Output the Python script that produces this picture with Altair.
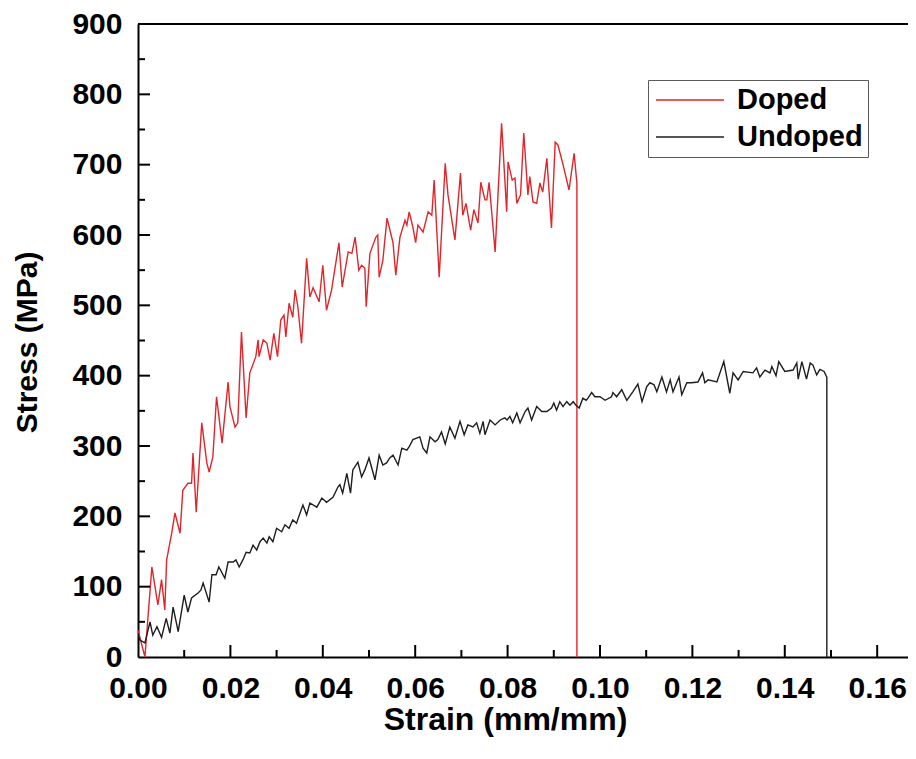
import altair as alt
import pandas as pd

# ---- data ----
doped_strain = [0.0000, 0.0015, 0.0030, 0.0043, 0.0051, 0.0058, 0.0062, 0.0073, 0.0080, 0.0091,
                0.0097, 0.0108, 0.0116, 0.0119, 0.0126, 0.0138, 0.0149, 0.0154, 0.0162, 0.0170,
                0.0182, 0.0195, 0.0199, 0.0210, 0.0216, 0.0224, 0.0234, 0.0242, 0.0255, 0.0260,
                0.0262, 0.0271, 0.0279, 0.0286, 0.0294, 0.0302, 0.0309, 0.0316, 0.0320, 0.0327,
                0.0335, 0.0340, 0.0346, 0.0354, 0.0365, 0.0372, 0.0379, 0.0392, 0.0400, 0.0408,
                0.0419, 0.0435, 0.0442, 0.0455, 0.0463, 0.0470, 0.0478, 0.0484, 0.0491, 0.0494,
                0.0502, 0.0515, 0.0519, 0.0522, 0.0530, 0.0539, 0.0552, 0.0558, 0.0567, 0.0578,
                0.0582, 0.0587, 0.0595, 0.0601, 0.0606, 0.0617, 0.0628, 0.0636, 0.0641, 0.0652,
                0.0665, 0.0671, 0.0686, 0.0698, 0.0703, 0.0710, 0.0720, 0.0727, 0.0736, 0.0742,
                0.0751, 0.0755, 0.0760, 0.0773, 0.0787, 0.0798, 0.0801, 0.0810, 0.0816, 0.0820,
                0.0828, 0.0835, 0.0844, 0.0848, 0.0855, 0.0863, 0.0870, 0.0876, 0.0885, 0.0895,
                0.0903, 0.0909, 0.0920, 0.0933, 0.0944, 0.0950, 0.0950]
doped_stress = [38, 0, 128, 74, 110, 67, 138, 176, 205, 176,
                237, 247, 247, 290, 206, 333, 276, 263, 284, 370,
                304, 391, 356, 327, 333, 462, 340, 404, 427, 451,
                427, 451, 446, 422, 460, 427, 479, 486, 455, 503,
                483, 522, 498, 446, 567, 512, 525, 505, 557, 493,
                522, 589, 526, 576, 574, 597, 550, 557, 553, 498,
                574, 597, 600, 540, 564, 624, 589, 543, 597, 621,
                614, 633, 611, 589, 614, 604, 633, 628, 678, 540,
                702, 657, 593, 688, 628, 645, 607, 636, 617, 675,
                650, 650, 675, 576, 759, 633, 704, 678, 681, 645,
                657, 745, 657, 683, 647, 645, 674, 661, 709, 610,
                732, 728, 700, 664, 716, 674, 0]

undoped_strain = [0.0000, 0.0004, 0.0015, 0.0026, 0.0032, 0.0041, 0.0051, 0.0061, 0.0069, 0.0076,
                  0.0087, 0.0100, 0.0108, 0.0116, 0.0130, 0.0136, 0.0141, 0.0154, 0.0160, 0.0169,
                  0.0175, 0.0188, 0.0195, 0.0206, 0.0212, 0.0219, 0.0227, 0.0234, 0.0242, 0.0249,
                  0.0257, 0.0264, 0.0271, 0.0279, 0.0284, 0.0292, 0.0300, 0.0311, 0.0318, 0.0327,
                  0.0335, 0.0343, 0.0351, 0.0357, 0.0365, 0.0372, 0.0387, 0.0398, 0.0408, 0.0422,
                  0.0433, 0.0437, 0.0443, 0.0452, 0.0460, 0.0465, 0.0476, 0.0484, 0.0491, 0.0500,
                  0.0513, 0.0522, 0.0530, 0.0538, 0.0545, 0.0552, 0.0563, 0.0571, 0.0582, 0.0587,
                  0.0595, 0.0610, 0.0617, 0.0625, 0.0632, 0.0643, 0.0649, 0.0657, 0.0665, 0.0675,
                  0.0686, 0.0697, 0.0706, 0.0714, 0.0725, 0.0733, 0.0740, 0.0747, 0.0751, 0.0762,
                  0.0773, 0.0784, 0.0794, 0.0799, 0.0805, 0.0811, 0.0820, 0.0827, 0.0838, 0.0844,
                  0.0852, 0.0863, 0.0874, 0.0885, 0.0895, 0.0900, 0.0906, 0.0913, 0.0920, 0.0928,
                  0.0935, 0.0942, 0.0948, 0.0955, 0.0963, 0.0970, 0.0974, 0.0982, 0.0989, 0.1000,
                  0.1011, 0.1025, 0.1028, 0.1036, 0.1047, 0.1058, 0.1071, 0.1082, 0.1091, 0.1101,
                  0.1108, 0.1117, 0.1123, 0.1134, 0.1144, 0.1152, 0.1158, 0.1171, 0.1177, 0.1188,
                  0.1198, 0.1212, 0.1222, 0.1227, 0.1234, 0.1253, 0.1268, 0.1281, 0.1288, 0.1299,
                  0.1310, 0.1331, 0.1339, 0.1346, 0.1357, 0.1368, 0.1372, 0.1381, 0.1387, 0.1400,
                  0.1418, 0.1426, 0.1429, 0.1437, 0.1447, 0.1455, 0.1461, 0.1469, 0.1476, 0.1485,
                  0.1491, 0.1491]
undoped_stress = [34, 24, 20, 50, 31, 43, 28, 55, 34, 71,
                  36, 88, 64, 84, 91, 95, 105, 78, 117, 117,
                  128, 112, 135, 135, 138, 128, 138, 149, 148, 159,
                  152, 164, 169, 162, 171, 164, 183, 178, 188, 183,
                  195, 190, 205, 216, 202, 219, 213, 226, 220, 227,
                  242, 245, 233, 261, 233, 266, 277, 256, 266, 283,
                  252, 287, 273, 276, 283, 287, 273, 297, 294, 299,
                  309, 313, 297, 290, 313, 306, 309, 320, 303, 327,
                  311, 335, 316, 330, 327, 333, 318, 335, 316, 337,
                  330, 337, 340, 337, 342, 333, 347, 333, 349, 354,
                  337, 356, 349, 349, 354, 361, 351, 363, 356, 363,
                  358, 363, 358, 354, 368, 365, 368, 376, 370, 370,
                  365, 370, 376, 370, 380, 365, 377, 388, 363, 384,
                  390, 387, 377, 398, 377, 394, 377, 398, 373, 390,
                  390, 391, 404, 390, 394, 391, 420, 375, 404, 394,
                  406, 404, 411, 398, 408, 404, 413, 400, 420, 406,
                  408, 418, 395, 420, 395, 418, 415, 401, 409, 406,
                  398, 0]

series_names = ["Doped", "Undoped"]
series_colors = ["#e0262b", "#1e1e1e"]

x_label_values = [0.00, 0.02, 0.04, 0.06, 0.08, 0.10, 0.12, 0.14, 0.16]
y_label_values = [0, 100, 200, 300, 400, 500, 600, 700, 800, 900]
x_major_ticks = [0.02, 0.04, 0.06, 0.08, 0.10, 0.12, 0.14, 0.16]
x_minor_ticks = [0.01, 0.03, 0.05, 0.07, 0.09, 0.11, 0.13, 0.15]
y_major_ticks = [100, 200, 300, 400, 500, 600, 700, 800]
y_minor_ticks = [50, 150, 250, 350, 450, 550, 650, 750, 850]

# ---- build table ----
rows = []
for i, (s, v) in enumerate(zip(doped_strain, doped_stress)):
    rows.append({"strain": s, "stress": v, "sample": "Doped", "idx": i})
for i, (s, v) in enumerate(zip(undoped_strain, undoped_stress)):
    rows.append({"strain": s, "stress": v, "sample": "Undoped", "idx": i})
df = pd.DataFrame(rows)

W, H = 770, 633
FONT = "Liberation Sans"
xscale = alt.Scale(domain=[0, 0.16667], nice=False, zero=False)
yscale = alt.Scale(domain=[0, 900], nice=False)

lines = alt.Chart(df).mark_line(strokeWidth=1.4, clip=True).encode(
    x=alt.X("strain:Q", scale=xscale,
            axis=alt.Axis(values=x_label_values, format=".2f", title="Strain (mm/mm)",
                          ticks=False, grid=False, labelPadding=16, titleFontSize=32,
                          titleX=367, titleY=72, titleBaseline="alphabetic", titleAlign="center")),
    y=alt.Y("stress:Q", scale=yscale,
            axis=alt.Axis(values=y_label_values, format="d", title="Stress (MPa)",
                          ticks=False, grid=False, labelPadding=16, titleFontSize=30,
                          titleAngle=270, titleX=-102, titleY=318, titleBaseline="alphabetic",
                          titleAlign="center")),
    color=alt.Color("sample:N", scale=alt.Scale(domain=series_names, range=series_colors),
                    legend=alt.Legend(title=None, orient="none", legendX=510, legendY=56,
                                      symbolType="stroke", symbolSize=4624, symbolStrokeWidth=1.4,
                                      clipHeight=30, rowPadding=7, padding=5,
                                      labelOffset=12, symbolOffset=2,
                                      labelFont=FONT, labelFontSize=29, labelFontWeight="bold",
                                      labelColor="black", strokeColor="#5a5a5a",
                                      fillColor="white")),
    order=alt.Order("idx:Q"),
)

top_border = alt.Chart(pd.DataFrame({"k": [0]})).mark_rule(color="black", strokeWidth=2).encode(
    x=alt.value(0), x2=alt.value(W), y=alt.value(0)
)

xt_major = alt.Chart(pd.DataFrame({"strain": x_major_ticks})).mark_rule(color="black", strokeWidth=2).encode(
    x=alt.X("strain:Q", scale=xscale), y=alt.value(H), y2=alt.value(H - 12)
)
xt_minor = alt.Chart(pd.DataFrame({"strain": x_minor_ticks})).mark_rule(color="black", strokeWidth=2).encode(
    x=alt.X("strain:Q", scale=xscale), y=alt.value(H), y2=alt.value(H - 7)
)
yt_major = alt.Chart(pd.DataFrame({"stress": y_major_ticks})).mark_rule(color="black", strokeWidth=2).encode(
    y=alt.Y("stress:Q", scale=yscale), x=alt.value(0), x2=alt.value(12)
)
yt_minor = alt.Chart(pd.DataFrame({"stress": y_minor_ticks})).mark_rule(color="black", strokeWidth=2).encode(
    y=alt.Y("stress:Q", scale=yscale), x=alt.value(0), x2=alt.value(7)
)

chart = alt.layer(lines, top_border, xt_major, xt_minor, yt_major, yt_minor).properties(
    width=W, height=H,
    autosize=alt.AutoSizeParams(type="none"),
    padding={"left": 130, "top": 16, "right": 0, "bottom": 84},
    background="white",
).configure_view(stroke=None).configure_axis(
    domain=True, domainColor="black", domainWidth=2,
    labelFont=FONT, labelFontSize=30, labelFontWeight="bold", labelColor="black",
    titleFont=FONT, titleFontWeight="bold", titleColor="black",
    labelOverlap=False, labelFlush=False,
)

chart.save("out.html", embed_options={"renderer": "svg", "actions": False})
